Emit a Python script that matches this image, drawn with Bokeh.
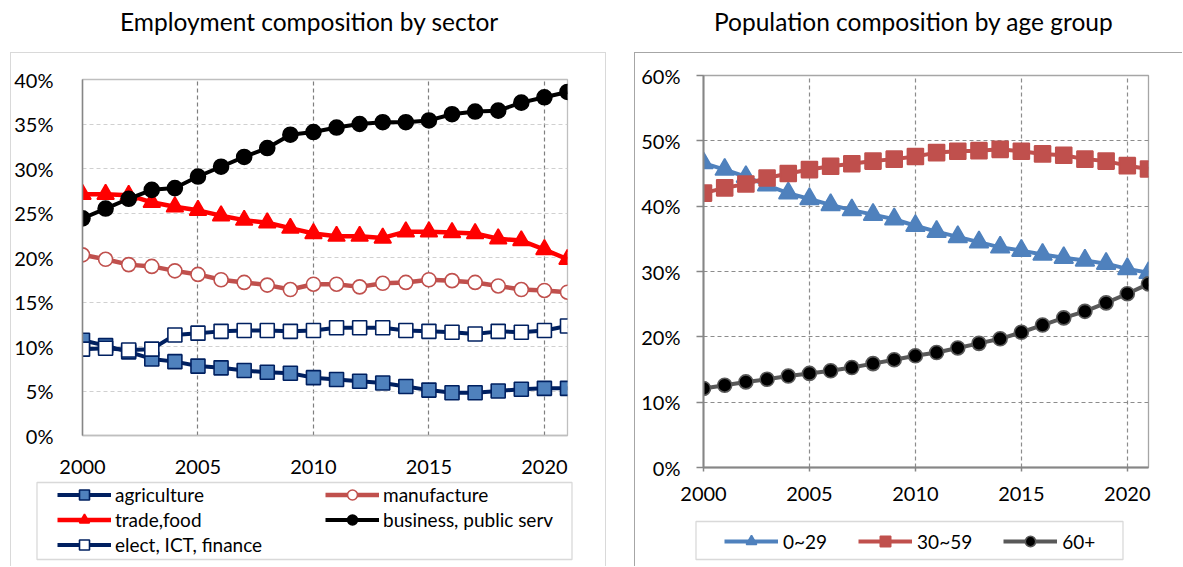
from bokeh.plotting import figure
from bokeh.models import (Range1d, NumeralTickFormatter, Legend, LegendItem,
                          FixedTicker, Div, BoxAnnotation)
from bokeh.layouts import row, column
from bokeh.embed import file_html
from bokeh.resources import INLINE

FONT = "Lato"

# ---------------- data ----------------
years = list(range(2000, 2022))

# Employment composition by sector (percent)
agriculture = [10.7, 10.1, 9.4, 8.6, 8.3, 7.8, 7.6, 7.3, 7.1, 7.0, 6.5,
               6.3, 6.1, 5.9, 5.5, 5.1, 4.8, 4.8, 5.0, 5.2, 5.3, 5.3]
manufacture = [20.3, 19.8, 19.2, 19.0, 18.5, 18.1, 17.5, 17.2, 16.9, 16.4, 17.0,
               17.0, 16.7, 17.1, 17.2, 17.5, 17.4, 17.2, 16.8, 16.4, 16.3, 16.1]
trade_food = [27.1, 27.1, 27.0, 26.2, 25.7, 25.3, 24.7, 24.2, 23.9, 23.3, 22.7,
              22.4, 22.4, 22.2, 22.9, 22.9, 22.8, 22.7, 22.1, 21.9, 20.9, 19.8]
business_public = [24.4, 25.5, 26.6, 27.6, 27.8, 29.1, 30.2, 31.3, 32.3, 33.8, 34.1,
                   34.6, 35.0, 35.2, 35.2, 35.4, 36.1, 36.4, 36.5, 37.4, 38.0, 38.6]
elect_ict_fin = [9.7, 9.8, 9.6, 9.7, 11.3, 11.5, 11.7, 11.8, 11.8, 11.7, 11.8,
                 12.1, 12.1, 12.1, 11.8, 11.7, 11.6, 11.4, 11.7, 11.6, 11.8, 12.3]

# Population composition by age group (percent)
age_0_29 = [46.6, 45.6, 44.5, 43.2, 42.0, 41.1, 40.2, 39.4, 38.7, 38.0, 37.0,
            36.1, 35.3, 34.5, 33.7, 33.2, 32.6, 32.1, 31.7, 31.2, 30.4, 29.8]
age_30_59 = [42.0, 42.8, 43.4, 44.3, 45.0, 45.6, 46.1, 46.5, 46.9, 47.2, 47.6,
             48.2, 48.4, 48.5, 48.7, 48.4, 48.0, 47.8, 47.2, 46.9, 46.2, 45.7]
age_60_plus = [12.1, 12.6, 13.1, 13.5, 14.0, 14.4, 14.8, 15.3, 15.9, 16.5, 17.1,
               17.6, 18.3, 19.0, 19.7, 20.7, 21.8, 22.9, 23.9, 25.2, 26.6, 28.1]

x_ticks = [2000, 2005, 2010, 2015, 2020]
left_y_ticks = [0, 5, 10, 15, 20, 25, 30, 35, 40]
right_y_ticks = [0, 10, 20, 30, 40, 50, 60]

left_title = "Employment composition by sector"
right_title = "Population composition by age group"

NAVY = "#002060"
# series styles: (label, values, line colour, line width, marker, size, fill, outline)
left_series = [
    ("agriculture", agriculture, NAVY, 4, "square", 14, "#4f81bd", NAVY),
    ("manufacture", manufacture, "#c0504d", 4.5, "circle", 14, "white", "#c0504d"),
    ("trade,food", trade_food, "#ff0000", 4.5, "triangle", 17, "#ff0000", "#ff0000"),
    ("business, public serv", business_public, "#000000", 4, "circle", 15, "#000000", "#000000"),
    ("elect, ICT, finance", elect_ict_fin, NAVY, 4, "square", 14, "white", NAVY),
]
right_series = [
    ("0~29", age_0_29, "#4f81bd", 4, "triangle", 19, "#4f81bd", "#4f81bd"),
    ("30~59", age_30_59, "#c0504d", 4, "square", 16, "#c0504d", "#c0504d"),
    ("60+", age_60_plus, "#595959", 4, "circle", 14, "#000000", "#595959"),
]


def frac(vals):
    return [v / 100.0 for v in vals]


def title_div(text, width, shift):
    html = ('<div style="line-height:28px; padding-top:8px; '
            'padding-left:%dpx; white-space:nowrap;">%s</div>' % (shift, text))
    return Div(text=html, width=width, height=52, margin=0,
               styles={"font-family": FONT, "font-size": "24.5px",
                       "color": "#000000"})


def style_common(p, yticks):
    p.xaxis.ticker = FixedTicker(ticks=x_ticks)
    p.yaxis.ticker = FixedTicker(ticks=[t / 100.0 for t in yticks])
    p.yaxis.formatter = NumeralTickFormatter(format="0%")
    for ax in (p.xaxis[0], p.yaxis[0]):
        ax.major_label_text_font = FONT
        ax.major_label_text_font_size = "20px"
        ax.major_label_text_color = "#000000"
        ax.minor_tick_line_color = None
    p.background_fill_color = "white"
    p.border_fill_color = "white"


def add_series(p, series):
    out = []
    for label, vals, lc, lw, mk, sz, fc, oc in series:
        l = p.line(years, frac(vals), line_color=lc, line_width=lw)
        s = p.scatter(years, frac(vals), marker=mk, size=sz,
                      fill_color=fc, line_color=oc, line_width=1.6)
        out.append((label, l, s))
    return out


def legend_fig(width, height, series, border_css, box, legend_kw):
    f = figure(width=width, height=height,
               x_range=Range1d(0, width), y_range=Range1d(0, height),
               output_backend="svg", toolbar_location=None,
               x_axis_location=None, y_axis_location=None,
               min_border=0, margin=border_css[0], styles=border_css[1])
    f.grid.visible = False
    f.outline_line_color = None
    f.background_fill_color = "white"
    f.border_fill_color = "white"
    rs = add_series(f, series)  # outside the visible range; used for legend glyphs
    items = [LegendItem(label=lab, renderers=[l, s]) for lab, l, s in rs]
    leg = Legend(items=items, orientation="horizontal",
                 padding=0, margin=0,
                 glyph_width=54, label_text_font=FONT,
                 label_text_font_size="19px", label_text_color="#000000",
                 border_line_color=None, background_fill_alpha=0,
                 **legend_kw)
    f.add_layout(leg)
    bl, br, bt, bb = box
    f.add_layout(BoxAnnotation(left=bl, right=br, top=bt, bottom=bb,
                               fill_alpha=0, line_color="#808080",
                               line_width=1.3))
    return f


# ---------------- left chart ----------------
L_BORDER = "1px solid #d9d9d9"
pL = figure(width=596, height=426,
            x_range=Range1d(2000, 2021), y_range=Range1d(0, 0.40),
            output_backend="svg", toolbar_location=None,
            min_border_left=66, min_border_right=40,
            min_border_top=26, min_border_bottom=44,
            margin=(0, 0, 0, 10),
            styles={"border-top": L_BORDER, "border-left": L_BORDER,
                    "border-right": L_BORDER})
style_common(pL, left_y_ticks)
pL.outline_line_color = "#bfbfbf"
pL.outline_line_width = 1.3
pL.xgrid.grid_line_color = "#7f7f7f"
pL.xgrid.grid_line_dash = "4 3"
pL.xgrid.grid_line_width = 1.2
pL.ygrid.grid_line_color = "#d0d0d0"
pL.ygrid.grid_line_dash = "4 3"
pL.ygrid.grid_line_width = 1.2
pL.yaxis.axis_line_color = "#868686"
pL.yaxis.axis_line_width = 1.5
pL.xaxis.axis_line_color = "#bfbfbf"
pL.xaxis.axis_line_width = 1.3
pL.yaxis.major_tick_line_color = None
pL.xaxis.major_tick_line_color = None
pL.yaxis.major_label_standoff = 23
pL.xaxis.major_label_standoff = 18
add_series(pL, left_series)

legL_fig = legend_fig(
    596, 88, left_series,
    ((0, 0, 0, 10), {"border-left": L_BORDER, "border-right": L_BORDER}),
    (25.5, 560.5, 84, 7),
    dict(ncols=2, location=(46, 9), spacing=0, glyph_height=25,
         label_height=25, label_width=210, label_standoff=4))

# ---------------- right chart ----------------
R_BORDER = "1px solid #a6a6a6"
pR = figure(width=548, height=460,
            x_range=Range1d(2000, 2021), y_range=Range1d(0, 0.60),
            output_backend="svg", toolbar_location=None,
            min_border_left=68, min_border_right=35,
            min_border_top=22, min_border_bottom=46,
            margin=(0, 0, 0, 26),
            styles={"border-top": R_BORDER, "border-left": R_BORDER})
style_common(pR, right_y_ticks)
pR.outline_line_color = "#a6a6a6"
pR.outline_line_width = 1.3
for g in (pR.xgrid[0], pR.ygrid[0]):
    g.grid_line_color = "#8c8c8c"
    g.grid_line_dash = "4 3"
    g.grid_line_width = 1.2
for ax in (pR.xaxis[0], pR.yaxis[0]):
    ax.axis_line_color = "#868686"
    ax.axis_line_width = 2
    ax.major_tick_line_color = "#868686"
    ax.major_tick_line_width = 1.5
    ax.major_tick_in = 0
pR.yaxis.major_tick_out = 7
pR.xaxis.major_tick_out = 4
pR.yaxis.major_label_standoff = 16
pR.xaxis.major_label_standoff = 15
add_series(pR, right_series)

legR_fig = legend_fig(
    548, 54, right_series,
    ((0, 0, 0, 26), {"border-left": R_BORDER}),
    (60.5, 487.5, 45, 7),
    dict(location=(89, 12), spacing=31, glyph_height=26,
         label_height=26, label_standoff=5))

# wrap the chart figures on their own so that the legend strips below
# are not frame-aligned with them
left_col = column(title_div(left_title, 608, 120), row(pL), row(legL_fig))
right_col = column(title_div(right_title, 575, 106), row(pR), row(legR_fig))
layout = row(left_col, right_col)
open("out.html", "w").write(file_html(layout, INLINE))
